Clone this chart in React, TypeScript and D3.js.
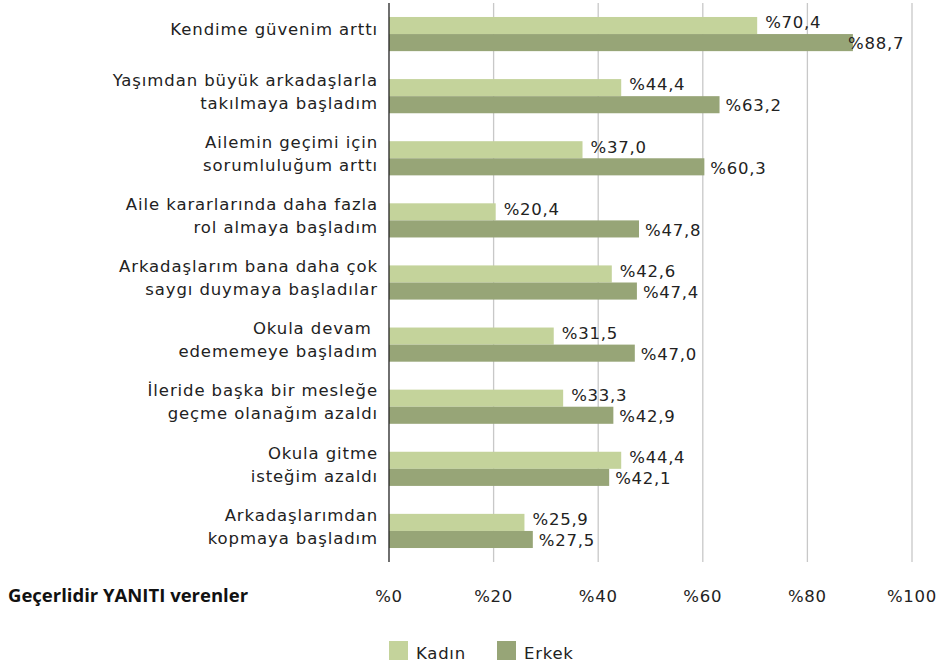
import React from 'react';
import * as d3 from 'd3';

const categories = [
  ['Kendime güvenim arttı'],
  ['Yaşımdan büyük arkadaşlarla', 'takılmaya başladım'],
  ['Ailemin geçimi için', 'sorumluluğum arttı'],
  ['Aile kararlarında daha fazla', 'rol almaya başladım'],
  ['Arkadaşlarım bana daha çok', 'saygı duymaya başladılar'],
  ['Okula devam ', 'edememeye başladım'],
  ['İleride başka bir mesleğe', 'geçme olanağım azaldı'],
  ['Okula gitme', 'isteğim azaldı'],
  ['Arkadaşlarımdan', 'kopmaya başladım'],
];
const kadin = [70.4, 44.4, 37.0, 20.4, 42.6, 31.5, 33.3, 44.4, 25.9];
const erkek = [88.7, 63.2, 60.3, 47.8, 47.4, 47.0, 42.9, 42.1, 27.5];
const ticks = [0, 20, 40, 60, 80, 100];
const seriesNames = ['Kadın', 'Erkek'];
const colors = ['#c4d39b', '#97a577'];

const W = 937;
const H = 667;
const font = '"DejaVu Sans", sans-serif';
const fs = 16.5;
const ls = 0.75;

export default function App() {
  const x = d3.scaleLinear().domain([0, 100]).range([389, 912]);
  const y = d3.scaleBand<number>().domain(d3.range(categories.length)).range([3, 562]).paddingInner(0.45).paddingOuter(0.225);
  const bh = y.bandwidth() / 2;
  const fmt = (v: number) => '%' + v.toFixed(1).replace('.', ',');
  const txt = { fontFamily: font, fontSize: fs, letterSpacing: ls, fill: '#222' };
  // keep value labels inside the plot, like the spreadsheet does
  const labelX = (v: number, off: number) => Math.min(x(v) + off, x(100) - 64);

  return (
    <svg width={W} height={H} style={{ display: 'block', position: 'absolute', left: 0, top: 0 }}>
      <rect width={W} height={H} fill="#fff" />
      {ticks.slice(1).map(t => (
        <line key={t} x1={x(t)} x2={x(t)} y1={3} y2={562} stroke="#c8c8c8" strokeWidth={1.3} />
      ))}
      {categories.map((lines, i) => {
        const y0 = y(i)!;
        const cy = y0 + bh;
        return (
          <g key={i}>
            <rect x={x(0)} y={y0} width={x(kadin[i]) - x(0)} height={bh} fill={colors[0]} />
            <rect x={x(0)} y={y0 + bh} width={x(erkek[i]) - x(0)} height={bh} fill={colors[1]} />
            <text x={labelX(kadin[i], 8)} y={y0 + bh / 2 - 3} dy="0.35em" {...txt}>{fmt(kadin[i])}</text>
            <text x={labelX(erkek[i], 6)} y={y0 + bh * 1.5 + 1} dy="0.35em" {...txt}>{fmt(erkek[i])}</text>
            <text x={378} textAnchor="end" {...txt} letterSpacing={0.9} style={{ whiteSpace: 'pre' }}>
              {lines.map((l, j) => (
                <tspan key={j} x={378} y={cy - 4.5 + (j - (lines.length - 1) / 2) * 23} dy="0.35em">{l}</tspan>
              ))}
            </text>
          </g>
        );
      })}
      <line x1={x(0)} x2={x(0)} y1={3} y2={562} stroke="#222" strokeWidth={1.3} />
      <text x={8} y={602} fontFamily='"Open Sans", sans-serif' fontWeight="bold" fontSize={18.5} fill="#111">Geçerlidir YANITI verenler</text>
      {ticks.map(t => (
        <text key={t} x={x(t)} y={602} textAnchor="middle" {...txt}>{'%' + t}</text>
      ))}
      {seriesNames.map((s, i) => (
        <g key={s} transform={`translate(${389 + i * 108},641)`}>
          <rect width={19} height={19} fill={colors[i]} />
          <text x={27} y={18} {...txt}>{s}</text>
        </g>
      ))}
    </svg>
  );
}
